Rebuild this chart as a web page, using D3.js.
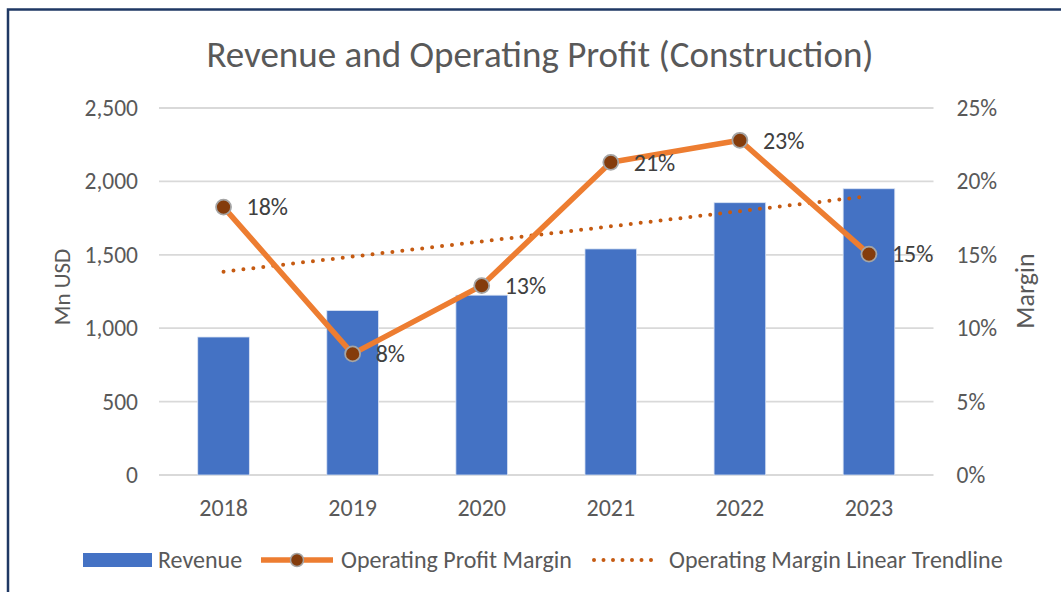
<!DOCTYPE html>
<html>
<head>
<meta charset="utf-8">
<script src="https://cdn.jsdelivr.net/npm/d3@7"></script>
<style>
	body { margin: 0; background: #fff; }
	svg { font-family: Carlito, Lato, sans-serif; }
</style>
</head>
<body>
<svg id="chart" width="1061" height="592"></svg>
<script>
/* chart data */
const years = ["2018", "2019", "2020", "2021", "2022", "2023"];
const revenue = [940, 1120, 1225, 1540, 1855, 1950];
const margin = [0.18, 0.08, 0.13, 0.21, 0.23, 0.15];
// where the points sit on the right axis (label shows rounded value)
const marginPlot = [0.1825, 0.0825, 0.1290, 0.2130, 0.2280, 0.1505];
const revTicks = [0, 500, 1000, 1500, 2000, 2500];
const pctTicks = [0, 0.05, 0.10, 0.15, 0.20, 0.25];

const svg = d3.select("#chart");
const textColor = "#595959";
const plotLeft = 159, plotRight = 933.5, plotTop = 108, plotBottom = 475;

// outer border (only top and left edges are visible)
svg.append("path")
	.attr("d", "M8,592 V9.5 H1061")
	.attr("fill", "none")
	.attr("stroke", "#1f3864")
	.attr("stroke-width", 2.5);

const x = d3.scaleBand().domain(years).range([plotLeft, plotRight]).paddingInner(0.6).paddingOuter(0.3);
const xc = d => x(d) + x.bandwidth() / 2;
const y = d3.scaleLinear().domain([0, 2500]).range([plotBottom, plotTop]);
const y2 = d3.scaleLinear().domain([0, 0.25]).range([plotBottom, plotTop]);

// title
svg.append("text")
	.attr("x", 540)
	.attr("y", 67)
	.attr("text-anchor", "middle")
	.attr("fill", textColor)
	.attr("font-size", "37px")
	.text("Revenue and Operating Profit (Construction)");

// gridlines
svg.append("g")
	.selectAll("line")
	.data(revTicks)
	.join("line")
	.attr("x1", plotLeft)
	.attr("x2", plotRight)
	.attr("y1", d => y(d))
	.attr("y2", d => y(d))
	.attr("stroke", "#d9d9d9")
	.attr("stroke-width", 1.8);

// left axis
const yAxis = svg.append("g")
	.attr("transform", `translate(${plotLeft - 18},0)`)
	.call(d3.axisLeft(y).tickValues(revTicks).tickSize(0).tickFormat(d3.format(",")));
yAxis.select(".domain").remove();
yAxis.selectAll("text").attr("fill", textColor).attr("font-size", "23.5px");
yAxis.attr("font-family", null);

// right axis
const y2Axis = svg.append("g")
	.attr("transform", `translate(${plotRight + 20},0)`)
	.call(d3.axisRight(y2).tickValues(pctTicks).tickSize(0).tickFormat(d3.format(".0%")));
y2Axis.select(".domain").remove();
y2Axis.selectAll("text").attr("fill", textColor).attr("font-size", "23.5px");
y2Axis.attr("font-family", null);

// x axis
const xAxis = svg.append("g")
	.attr("transform", `translate(0,${plotBottom + 21})`)
	.call(d3.axisBottom(x).tickSize(0));
xAxis.select(".domain").remove();
xAxis.selectAll("text").attr("fill", textColor).attr("font-size", "24px");
xAxis.attr("font-family", null);

// axis titles
svg.append("text")
	.attr("transform", "translate(70,287) rotate(-90)")
	.attr("text-anchor", "middle")
	.attr("fill", textColor)
	.attr("font-size", "23px")
	.text("Mn USD");
svg.append("text")
	.attr("transform", "translate(1034,291) rotate(-90)")
	.attr("text-anchor", "middle")
	.attr("fill", textColor)
	.attr("font-size", "26px")
	.text("Margin");

// bars
svg.append("g")
	.selectAll("rect")
	.data(years)
	.join("rect")
	.attr("x", d => x(d))
	.attr("width", x.bandwidth())
	.attr("y", (d, i) => y(revenue[i]))
	.attr("height", (d, i) => y(0) - y(revenue[i]))
	.attr("fill", "#4472c4")
	.attr("stroke", "#dae3f3")
	.attr("stroke-width", 0.8);

// linear trendline (least squares over the margin points)
const xi = years.map((d, i) => i + 1);
const mx = d3.mean(xi), my = d3.mean(marginPlot);
const slope = d3.sum(xi, (v, i) => (v - mx) * (marginPlot[i] - my)) / d3.sum(xi, v => (v - mx) ** 2);
const icpt = my - slope * mx;
svg.append("line")
	.attr("x1", xc(years[0]))
	.attr("x2", xc(years[years.length - 1]))
	.attr("y1", y2(icpt + slope * 1))
	.attr("y2", y2(icpt + slope * years.length))
	.attr("stroke", "#c55a11")
	.attr("stroke-width", 4)
	.attr("stroke-linecap", "round")
	.attr("stroke-dasharray", "0 10");

// margin line
const line = d3.line()
	.x((d, i) => xc(years[i]))
	.y(d => y2(d));
svg.append("path")
	.datum(marginPlot)
	.attr("d", line)
	.attr("fill", "none")
	.attr("stroke", "#ed7d31")
	.attr("stroke-width", 5.5)
	.attr("stroke-linejoin", "round");

// markers
svg.append("g")
	.selectAll("circle")
	.data(marginPlot)
	.join("circle")
	.attr("cx", (d, i) => xc(years[i]))
	.attr("cy", d => y2(d))
	.attr("r", 7.5)
	.attr("fill", "#843c0c")
	.attr("stroke", "#a5a5a5")
	.attr("stroke-width", 1.8);

// data labels
svg.append("g")
	.selectAll("text")
	.data(margin)
	.join("text")
	.attr("x", (d, i) => xc(years[i]) + 23)
	.attr("y", (d, i) => y2(marginPlot[i]))
	.attr("dy", "0.35em")
	.attr("fill", "#404040")
	.attr("font-size", "24px")
	.text(d => d3.format(".0%")(d));

// legend
const lg = svg.append("g").attr("font-size", "24px").attr("fill", textColor);
const ly = 560;
lg.append("rect").attr("x", 83).attr("y", ly - 7).attr("width", 69).attr("height", 14).attr("fill", "#4472c4");
lg.append("text").attr("x", 158).attr("y", ly).attr("dy", "0.35em").text("Revenue");
lg.append("line").attr("x1", 261).attr("x2", 333).attr("y1", ly).attr("y2", ly)
	.attr("stroke", "#ed7d31").attr("stroke-width", 5.5);
lg.append("circle").attr("cx", 297).attr("cy", ly).attr("r", 6.5)
	.attr("fill", "#843c0c").attr("stroke", "#a5a5a5").attr("stroke-width", 1.5);
lg.append("text").attr("x", 341).attr("y", ly).attr("dy", "0.35em").text("Operating Profit Margin");
lg.append("line").attr("x1", 594).attr("x2", 660).attr("y1", ly).attr("y2", ly)
	.attr("stroke", "#c55a11").attr("stroke-width", 4)
	.attr("stroke-linecap", "round").attr("stroke-dasharray", "0 9.5");
lg.append("text").attr("x", 669).attr("y", ly).attr("dy", "0.35em").text("Operating Margin Linear Trendline");
</script>
</body>
</html>
